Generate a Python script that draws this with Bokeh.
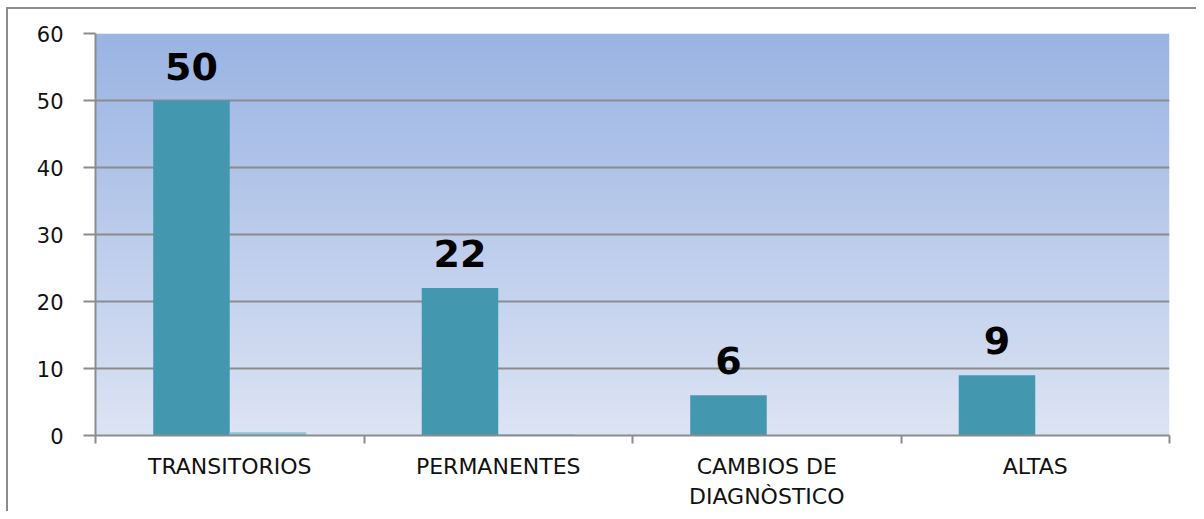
import numpy as np
from bokeh.plotting import figure
from bokeh.models import ColumnDataSource, FixedTicker, LabelSet, Range1d
from bokeh.core.properties import value
from bokeh.embed import file_html
from bokeh.resources import INLINE

categories = ["TRANSITORIOS", "PERMANENTES", "CAMBIOS DE\nDIAGNÒSTICO", "ALTAS"]
series1 = [50, 22, 6, 9]
series2 = [0.5, 0.2, 0, 0]
y_ticks = [0, 10, 20, 30, 40, 50, 60]

n = len(categories)
centers = [i + 0.5 for i in range(n)]
bw = 0.285

p = figure(width=1196, height=511, output_backend="svg", toolbar_location=None,
           x_range=Range1d(0, n), y_range=Range1d(0, 60),
           min_border_left=95, min_border_right=27, min_border_top=33, min_border_bottom=76,
           background_fill_color="white", border_fill_color=None)
p.outline_line_color = None
# outer frame lines (left / top) drawn behind the transparent canvas border
p.styles = {
    "background": ("linear-gradient(#8c8c8c,#8c8c8c) 6px 7px / 2px 100% no-repeat, "
                   "linear-gradient(#8c8c8c,#8c8c8c) 6px 7px / 100% 2px no-repeat, white"),
}

# gradient background
H = 200
top = np.array([154, 180, 227], dtype=float)
bot = np.array([221, 228, 244], dtype=float)
t = np.linspace(0, 1, H)[:, None]
cols = (bot * (1 - t) + top * t).astype(np.uint32)
img = np.empty((H, 1), dtype=np.uint32)
img[:, 0] = (255 << 24) | (cols[:, 2] << 16) | (cols[:, 1] << 8) | cols[:, 0]
p.image_rgba(image=[img], x=0, y=0, dw=n, dh=60, level="image")

s1 = ColumnDataSource(dict(x=[c - bw / 2 for c in centers], top=series1,
                           label=[str(v) for v in series1]))
s2 = ColumnDataSource(dict(x=[c + bw / 2 for c in centers], top=series2))
p.vbar(x="x", top="top", bottom=0, width=bw, source=s1, fill_color="#4398B0", line_color=None)
p.vbar(x="x", top="top", bottom=0, width=bw, source=s2, fill_color="#8FC3D4", line_color=None)

labels = LabelSet(x="x", y="top", text="label", source=s1, y_offset=21,
                  text_align="center", text_baseline="alphabetic",
                  text_font=value("DejaVu Sans"), text_font_style="bold",
                  text_font_size=value("38px"), text_color="black")
p.add_layout(labels)

# grid
p.xgrid.grid_line_color = None
p.ygrid.ticker = FixedTicker(ticks=y_ticks)
p.ygrid.grid_line_color = "#8c8c8c"
p.ygrid.grid_line_width = 2
p.ygrid.level = "underlay"

# y axis
p.yaxis.ticker = FixedTicker(ticks=y_ticks)
p.yaxis.axis_line_color = "#8c8c8c"
p.yaxis.axis_line_width = 2
p.yaxis.major_tick_line_color = "#8c8c8c"
p.yaxis.major_tick_line_width = 2
p.yaxis.major_tick_in = 0
p.yaxis.major_tick_out = 12
p.yaxis.minor_tick_line_color = None
p.yaxis.major_label_standoff = 20
p.yaxis.major_label_text_font = "DejaVu Sans"
p.yaxis.major_label_text_font_size = "21px"
p.yaxis.major_label_text_color = "#111111"

# x axis
p.xaxis.ticker = FixedTicker(ticks=centers, minor_ticks=list(range(n + 1)))
p.xaxis.major_label_overrides = {c: lab for c, lab in zip(centers, categories)}
p.xaxis.axis_line_color = "#8c8c8c"
p.xaxis.axis_line_width = 2
p.xaxis.major_tick_line_color = None
p.xaxis.minor_tick_line_color = "#8c8c8c"
p.xaxis.minor_tick_line_width = 2
p.xaxis.minor_tick_in = 0
p.xaxis.minor_tick_out = 8
p.xaxis.major_label_standoff = 10
p.xaxis.major_label_text_font = "DejaVu Sans"
p.xaxis.major_label_text_font_size = "22px"
p.xaxis.major_label_text_color = "#111111"

open("out.html", "w").write(file_html(p, INLINE))
